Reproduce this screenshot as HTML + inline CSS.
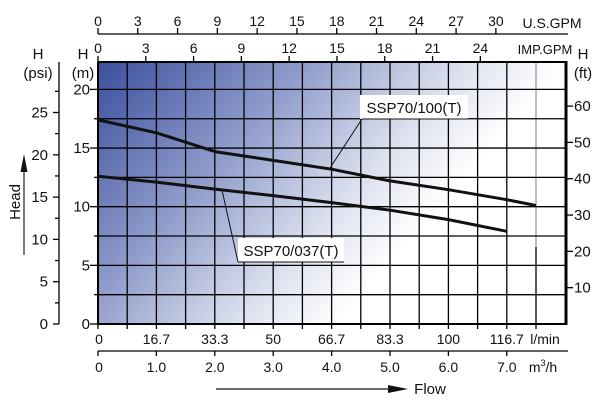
<!DOCTYPE html>
<html><head><meta charset="utf-8">
<style>
html,body{margin:0;padding:0;background:#fff;}
svg{display:block;font-family:"Liberation Sans",Arial,sans-serif;}
</style></head>
<body>
<svg id="chart" width="608" height="415" viewBox="0 0 608 415" xmlns="http://www.w3.org/2000/svg">
<defs>
<linearGradient id="bg" gradientUnits="userSpaceOnUse" x1="98" y1="62" x2="360" y2="296">
<stop offset="0" stop-color="#3b4f9d"/>
<stop offset="0.45" stop-color="#909dcb"/>
<stop offset="0.8" stop-color="#dfe3f0"/>
<stop offset="1" stop-color="#ffffff"/>
</linearGradient>
</defs>
<g id="root"></g>
</svg>
<script>
// data
const flowQ100 = [0, 1, 2, 3, 4, 5, 6, 7, 7.5];
const head100 = [17.4, 16.3, 14.7, 13.95, 13.2, 12.2, 11.45, 10.6, 10.1];
const flowQ037 = [0, 1, 2, 3, 4, 5, 6, 7];
const head037 = [12.6, 12.1, 11.5, 10.95, 10.35, 9.7, 8.9, 7.9];
const usGpmTicks = [0, 3, 6, 9, 12, 15, 18, 21, 24, 27, 30];
const impGpmTicks = [0, 3, 6, 9, 12, 15, 18, 21, 24];
const lminLabels = ["0", "16.7", "33.3", "50", "66.7", "83.3", "100", "116.7"];
const m3hLabels = ["0", "1.0", "2.0", "3.0", "4.0", "5.0", "6.0", "7.0"];
const mTicks = [0, 5, 10, 15, 20];
const psiTicks = [0, 5, 10, 15, 20, 25];
const ftTicks = [10, 20, 30, 40, 50, 60];

const L = 98, R = 566, T = 62, B = 324;
const X = q => L + q * 58.4;
const Ym = h => B - h * 11.73;
const Yft = f => B - f * 3.632;
const Ypsi = p => B - p * 8.46;
const NS = "http://www.w3.org/2000/svg";
const root = document.getElementById('root');
function mk(tag, attrs, parent) {
  const e = document.createElementNS(NS, tag);
  for (const k in attrs) e.setAttribute(k, attrs[k]);
  (parent || root).appendChild(e);
  return e;
}
function txt(x, y, s, anchor, size) {
  const t = mk('text', {x: x, y: y, 'font-size': size || 14, 'text-anchor': anchor || 'middle', fill: '#111'});
  t.textContent = s;
  return t;
}

// plot background
const bgr = mk('rect', {x: L, y: T, width: R - L, height: B - T, fill: 'url(#bg)'});



// grid
const grid = mk('g', {stroke: '#000', 'stroke-width': 1.3});


for (let i = 1; i < 16; i++) {
  const x = X(i * 0.5);
  if (i === 15) {
    mk('line', {x1: x, y1: T, x2: x, y2: 247, stroke: '#999'}, grid);
    mk('line', {x1: x, y1: 247, x2: x, y2: B}, grid);
  } else mk('line', {x1: x, y1: T, x2: x, y2: B}, grid);
}
for (let i = 1; i <= 8; i++) {
  const y = Ym(i * 2.5);
  if (y > T) mk('line', {x1: L, y1: y, x2: R, y2: y}, grid);
}
// border
const border = mk('g', {stroke: '#000', fill: 'none'});


mk('line', {x1: L, y1: T, x2: R, y2: T, 'stroke-width': 2}, border);
mk('line', {x1: L, y1: T, x2: L, y2: B, 'stroke-width': 2}, border);
mk('line', {x1: L, y1: B, x2: R + 1.5, y2: B, 'stroke-width': 2}, border);
mk('line', {x1: R, y1: T - 1, x2: R, y2: B, 'stroke-width': 3}, border);

// curves
function curve(qs, hs, name) {
  const d = qs.map((q, i) => (i ? 'L' : 'M') + X(q).toFixed(1) + ' ' + Ym(hs[i]).toFixed(1)).join(' ');
  const p = mk('path', {d: d, fill: 'none', stroke: '#111', 'stroke-width': 3, 'stroke-linejoin': 'round'});
  
  
}
curve(flowQ100, head100, 'curve-ssp70-100');
curve(flowQ037, head037, 'curve-ssp70-037');

// curve labels
const lb1 = mk('g', {});


mk('rect', {x: 360, y: 95, width: 108, height: 24, fill: '#fff'}, lb1);
mk('line', {x1: 330, y1: 168, x2: 362, y2: 119, stroke: '#111', 'stroke-width': 1}, lb1);
mk('line', {x1: 362, y1: 119, x2: 468, y2: 119, stroke: '#111', 'stroke-width': 1}, lb1);
lb1.appendChild(txt(414, 113, 'SSP70/100(T)', 'middle', 15));
const lb2 = mk('g', {});


mk('rect', {x: 238, y: 238, width: 106, height: 24, fill: '#fff'}, lb2);
mk('line', {x1: 222, y1: 190, x2: 238, y2: 262, stroke: '#111', 'stroke-width': 1}, lb2);
mk('line', {x1: 238, y1: 262, x2: 344, y2: 262, stroke: '#111', 'stroke-width': 1}, lb2);
lb2.appendChild(txt(291, 256, 'SSP70/037(T)', 'middle', 15));

// top US GPM axis
const ax1 = mk('g', {stroke: '#000', 'stroke-width': 1.3});


mk('line', {x1: L, y1: 34, x2: 568, y2: 34}, ax1);
usGpmTicks.forEach(g => {
  const x = X(g * 0.2271);
  mk('line', {x1: x, y1: 34, x2: x, y2: 28}, ax1);
  txt(x, 26, String(g)).setAttribute('stroke', 'none');
});
txt(552, 28, 'U.S.GPM');
// IMP GPM
const ax2 = mk('g', {stroke: '#000', 'stroke-width': 1.3});


impGpmTicks.forEach(g => {
  const x = X(g * 0.2728);
  mk('line', {x1: x, y1: T, x2: x, y2: T - 6}, ax2);
  txt(x, 53, String(g));
});
txt(545, 54, 'IMP.GPM', 'middle', 13);

// bottom l/min
const ax3 = mk('g', {stroke: '#000', 'stroke-width': 1.3});


for (let i = 0; i < 16; i++) {
  const x = X(i * 0.5);
  mk('line', {x1: x, y1: B, x2: x, y2: B + 5}, ax3);
}
lminLabels.forEach((s, i) => txt(X(i) + (i === 0 ? 1 : 0), 344, s));
txt(545, 344, 'l/min');
// m3/h
const ax4 = mk('g', {stroke: '#000', 'stroke-width': 1.3});


mk('line', {x1: L, y1: 351, x2: 568, y2: 351}, ax4);
for (let i = 0; i <= 7; i++) mk('line', {x1: X(i), y1: 351, x2: X(i), y2: 356}, ax4);
m3hLabels.forEach((s, i) => txt(X(i) + (i === 0 ? 1 : 0), 372, s));
const m3t = txt(543, 372, 'm');

const sup = mk('tspan', {'font-size': 9, dy: -6}, m3t); sup.textContent = '3';
const rest = mk('tspan', {dy: 6}, m3t); rest.textContent = '/h';

// flow arrow
const fl = mk('g', {});


mk('line', {x1: 216, y1: 389, x2: 390, y2: 389, stroke: '#111', 'stroke-width': 1.3}, fl);
mk('polygon', {points: '388,385 408,389 388,393', fill: '#111'}, fl);
txt(430, 394, 'Flow', 'middle', 15);

// m axis
const ax5 = mk('g', {stroke: '#000', 'stroke-width': 1.3});


mTicks.forEach(h => {
  mk('line', {x1: L - 8, y1: Ym(h), x2: L, y2: Ym(h)}, ax5);
  txt(90, Ym(h) + 5, String(h), 'end', 15);
});
for (let h = 2.5; h < 22; h += 5) mk('line', {x1: L - 4, y1: Ym(h), x2: L, y2: Ym(h)}, ax5);
txt(83, 59, 'H', 'middle', 15);
txt(83, 78, '(m)', 'middle', 15);

// psi axis
const ax6 = mk('g', {stroke: '#000', 'stroke-width': 1.3});


mk('line', {x1: 59, y1: T, x2: 59, y2: B}, ax6);
psiTicks.forEach(p => {
  mk('line', {x1: 53, y1: Ypsi(p), x2: 59, y2: Ypsi(p)}, ax6);
  txt(48, Ypsi(p) + 5, String(p), 'end', 15);
});
for (let p = 2.5; p < 30; p += 5) mk('line', {x1: 55, y1: Ypsi(p), x2: 59, y2: Ypsi(p)}, ax6);
txt(38, 59, 'H', 'middle', 15);
txt(38, 78, '(psi)', 'middle', 15);

// ft axis
const ax7 = mk('g', {stroke: '#000', 'stroke-width': 1.3});


ftTicks.forEach(f => {
  mk('line', {x1: R, y1: Yft(f), x2: R + 7, y2: Yft(f)}, ax7);
  txt(574, Yft(f) + 5, String(f), 'start', 15);
});
txt(583, 59, 'H', 'middle', 15);
txt(583, 78, '(ft)', 'middle', 15);

// Head label
const hd = mk('g', {});


mk('line', {x1: 24, y1: 255, x2: 24, y2: 170, stroke: '#333', 'stroke-width': 1.3}, hd);
mk('polygon', {points: '20.5,172 24,154 27.5,172', fill: '#111'}, hd);
const ht = txt(0, 0, 'Head', 'middle', 15);
ht.setAttribute('transform', 'translate(20,202) rotate(-90)');
hd.appendChild(ht);
</script>
</body></html>
